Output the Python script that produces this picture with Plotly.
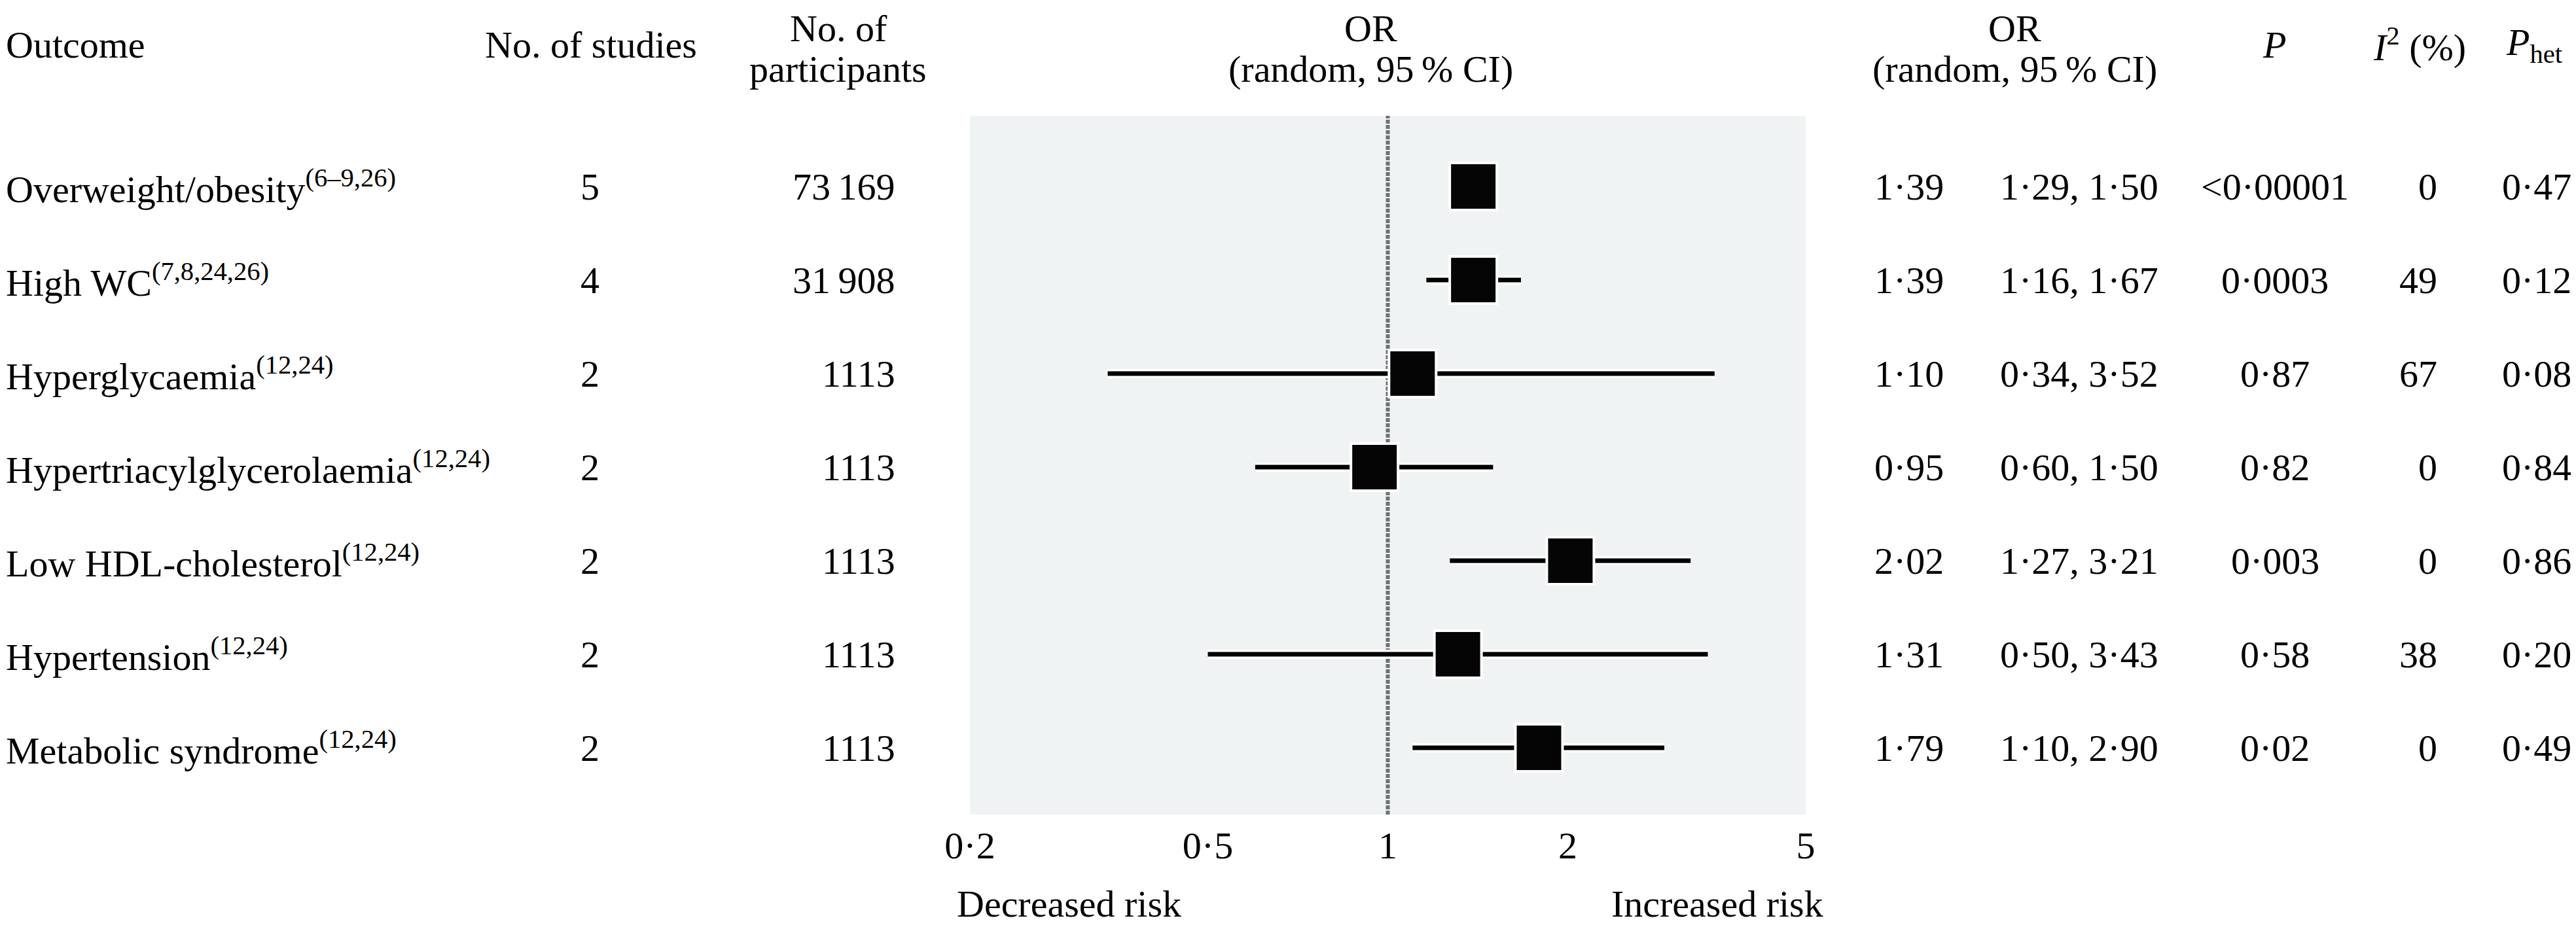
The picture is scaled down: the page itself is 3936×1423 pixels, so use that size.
import math
import plotly.graph_objects as go

# ---- data ----
outcomes = ['Overweight/obesity', 'High WC', 'Hyperglycaemia',
            'Hypertriacylglycerolaemia', 'Low HDL-cholesterol',
            'Hypertension', 'Metabolic syndrome']
refs = ['(6–9,26)', '(7,8,24,26)', '(12,24)', '(12,24)', '(12,24)',
        '(12,24)', '(12,24)']
n_studies = [5, 4, 2, 2, 2, 2, 2]
n_participants = [73169, 31908, 1113, 1113, 1113, 1113, 1113]
or_vals = [1.39, 1.39, 1.10, 0.95, 2.02, 1.31, 1.79]
ci_lo = [1.29, 1.16, 0.34, 0.60, 1.27, 0.50, 1.10]
ci_hi = [1.50, 1.67, 3.52, 1.50, 3.21, 3.43, 2.90]
p_vals = ['<0·00001', '0·0003', '0·87', '0·82', '0·003', '0·58', '0·02']
i2_vals = [0, 49, 67, 0, 0, 38, 0]
p_het = [0.47, 0.12, 0.08, 0.84, 0.86, 0.20, 0.49]

tick_vals = [0.2, 0.5, 1, 2, 5]
tick_text = ['0·2', '0·5', '1', '2', '5']

# ---- layout constants (pixels in the 3936x1423 picture) ----
OFF = 8                      # default page margin of the html body
W, H = 3936 - 2 * OFF, 1423 - 2 * OFF
PLOT_L, PLOT_R, PLOT_T, PLOT_B = 1482 - OFF, 2759 - OFF, 177 - OFF, 1245 - OFF
PLOT_W = PLOT_R - PLOT_L
FONT = 'Liberation Serif'
FS = 58
THIN = '\u2009'


def dot(v):
    return f'{v:.2f}'.replace('.', '·')


def fmt_n(n):
    if n >= 10000:
        return f'{n:,}'.replace(',', THIN)
    return str(n)


def xp(px):
    # picture column -> paper x
    return (px - OFF - PLOT_L) / PLOT_W


rows = list(range(len(outcomes)))

fig = go.Figure()

# CI lines: white halo underneath, black line on top
ci_x, ci_y = [], []
for i in rows:
    ci_x += [ci_lo[i], ci_hi[i], None]
    ci_y += [i, i, None]
fig.add_trace(go.Scatter(x=ci_x, y=ci_y, mode='lines',
                         line=dict(color='white', width=14),
                         hoverinfo='skip', showlegend=False))
fig.add_trace(go.Scatter(x=ci_x, y=ci_y, mode='lines',
                         line=dict(color='black', width=7),
                         hoverinfo='skip', showlegend=False))

# point estimates
fig.add_trace(go.Scatter(x=or_vals, y=rows, mode='markers',
                         marker=dict(symbol='square', size=72, color='#050505',
                                     line=dict(color='white', width=4)),
                         showlegend=False))

# line of no effect
fig.add_shape(type='line', xref='x', yref='paper', x0=1, x1=1, y0=0, y1=1,
              layer='below', line=dict(color='#6c7374', width=6, dash='6px,2px'))

ann = []


def add_text(text, px, y, yref='y', anchor='center', yshift=0):
    ann.append(dict(text=text, x=xp(px), xref='paper', y=y, yref=yref,
                    xanchor=anchor, yanchor='middle', yshift=yshift,
                    showarrow=False, font=dict(family=FONT, size=FS, color='black')))


def head(text, px, ypix, anchor='center'):
    # ypix: centre row of the text in the picture
    add_text(text, px, 1, yref='paper', anchor=anchor, yshift=PLOT_T - (ypix - OFF))


LEFT = 7
head('Outcome', LEFT, 68, anchor='left')
head('No. of studies', 903, 68)
head('No. of', 1281, 43)
head('participants', 1280, 105)
head('OR', 2094, 43)
head(f'(random, 95{THIN}% CI)', 2094, 105)
head('OR', 3078, 43)
head(f'(random, 95{THIN}% CI)', 3078, 105)
head('<i>P</i>', 3475, 68)
head('<i>I</i><sup>2</sup> (%)', 3697, 68)
head('<i>P</i><sub>het</sub>', 3872, 68)

# table rows
for i in rows:
    add_text(f'{outcomes[i]}<sup>{refs[i]}</sup>', LEFT, i, anchor='left')
    add_text(str(n_studies[i]), 901, i)
    add_text(fmt_n(n_participants[i]), 1370, i, anchor='right')
    add_text(dot(or_vals[i]), 2917, i)
    add_text(f'{dot(ci_lo[i])}, {dot(ci_hi[i])}', 3177, i)
    add_text(p_vals[i], 3476, i)
    add_text(str(i2_vals[i]), 3726, i, anchor='right')
    add_text(dot(p_het[i]), 3876, i)

# bottom labels
add_text('Decreased risk', 1460, 0, yref='paper', anchor='left',
         yshift=-(1381 - OFF - PLOT_B))
add_text('Increased risk', 2788, 0, yref='paper', anchor='right',
         yshift=-(1381 - OFF - PLOT_B))

# y range so that rows sit at 285 + 143*i px of the picture
row0, step = 285 - OFF, 143
y_top = -(row0 - PLOT_T) / step
y_bot = (PLOT_B - row0) / step

fig.update_layout(
    width=W, height=H,
    margin=dict(l=PLOT_L, r=W - PLOT_R, t=PLOT_T, b=H - PLOT_B, pad=0),
    paper_bgcolor='white', plot_bgcolor='#f0f3f3',
    font=dict(family=FONT, size=FS, color='black'),
    annotations=ann,
    xaxis=dict(type='log', range=[math.log10(0.2), math.log10(5)],
               tickvals=tick_vals, ticktext=tick_text, ticks='',
               showgrid=False, zeroline=False, showline=False,
               tickfont=dict(family=FONT, size=FS, color='black'),
               ticklabelstandoff=8),
    yaxis=dict(range=[y_bot, y_top], visible=False, showgrid=False,
               zeroline=False),
    showlegend=False,
)

fig.write_html('out.html')
